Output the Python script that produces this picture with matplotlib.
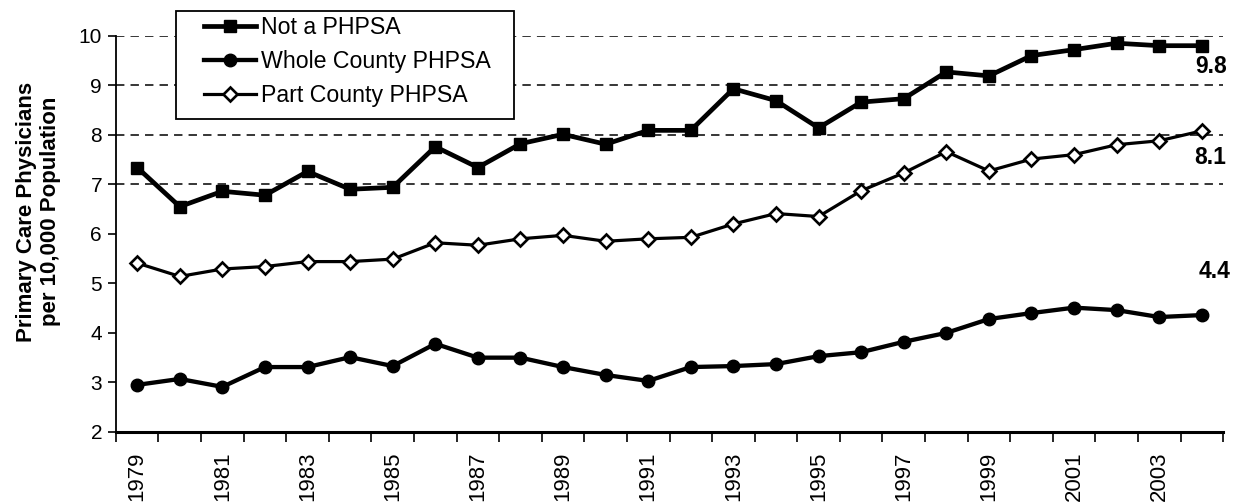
import matplotlib
matplotlib.use("Agg")
import matplotlib.pyplot as plt
import matplotlib.patches as mpatches
from matplotlib.ticker import FixedLocator

YEARS = list(range(1979, 2005))

NOT_PHPSA = [7.34, 6.55, 6.86, 6.78, 7.26, 6.90, 6.94, 7.76, 7.34, 7.82, 8.01, 7.81,
             8.09, 8.09, 8.93, 8.69, 8.14, 8.66, 8.73, 9.27, 9.19, 9.60, 9.72, 9.85,
             9.80, 9.80]
WHOLE_COUNTY = [2.95, 3.07, 2.91, 3.31, 3.31, 3.51, 3.33, 3.78, 3.50, 3.50, 3.31, 3.15,
                3.03, 3.31, 3.33, 3.37, 3.53, 3.61, 3.82, 4.00, 4.28, 4.40, 4.51, 4.46,
                4.32, 4.36]
PART_COUNTY = [5.41, 5.14, 5.29, 5.34, 5.44, 5.44, 5.49, 5.82, 5.77, 5.90, 5.97, 5.85,
               5.90, 5.93, 6.20, 6.41, 6.35, 6.87, 7.23, 7.66, 7.27, 7.51, 7.60, 7.80,
               7.88, 8.08]

SERIES = ["Not a PHPSA", "Whole County PHPSA", "Part County PHPSA"]
END_LABELS = ["9.8", "4.4", "8.1"]

plt.rcParams["font.family"] = ["Liberation Sans", "DejaVu Sans"]

fig = plt.figure(figsize=(12.33, 5.04), dpi=100)
ax = fig.add_axes([0.094, 0.143, 0.898, 0.786])

x = list(range(len(YEARS)))

ax.plot(x, NOT_PHPSA, color="black", lw=3.4, marker="s", ms=8.5,
        mfc="black", mec="black", label=SERIES[0], zorder=4)
ax.plot(x, WHOLE_COUNTY, color="black", lw=3.1, marker="o", ms=9,
        mfc="black", mec="black", label=SERIES[1], zorder=4)
ax.plot(x, PART_COUNTY, color="black", lw=2.3, marker="D", ms=7,
        mfc="white", mec="black", mew=1.9, label=SERIES[2], zorder=4)

# dashed grid only on the upper levels, as in the original
for g in [7, 8, 9, 10]:
    ax.axhline(g, color="black", lw=1.1, ls=(0, (5.5, 4)), zorder=1)

ax.set_xlim(-0.5, len(YEARS) - 0.5)
ax.set_ylim(2, 10)
ax.set_yticks(range(2, 11))
ax.tick_params(axis="y", labelsize=15, length=6, width=1.2, direction="out", pad=4)

ax.xaxis.set_major_locator(FixedLocator(x[::2]))
ax.set_xticklabels([str(y) for y in YEARS[::2]], rotation=90)
ax.xaxis.set_minor_locator(FixedLocator([i - 0.5 for i in range(len(YEARS) + 1)]))
ax.tick_params(axis="x", which="major", length=0, labelsize=16, pad=14)
ax.tick_params(axis="x", which="minor", length=7, width=1.2, direction="out")

for s in ["top", "right"]:
    ax.spines[s].set_visible(False)
ax.spines["left"].set_linewidth(1.3)
ax.spines["bottom"].set_linewidth(2.2)

ax.set_ylabel("Primary Care Physicians\nper 10,000 Population", fontsize=16,
              fontweight="bold", linespacing=1.15)
ax.yaxis.set_label_coords(-0.05, 0.556)

# end-of-line value labels
last = len(YEARS) - 1
offsets = [(9, -21), (13, 44), (8, -27)]
for vals, lab, off in zip([NOT_PHPSA, WHOLE_COUNTY, PART_COUNTY], END_LABELS, offsets):
    ax.annotate(lab, (last, vals[-1]), xytext=off, textcoords="offset pixels",
                ha="center", va="center", fontsize=16.5, fontweight="bold")

# legend: frame drawn separately so the side padding can differ from the top padding
fig.patches.append(mpatches.Rectangle(
    (176 / 1233, 1 - 119 / 504), (514 - 176) / 1233, 108 / 504,
    transform=fig.transFigure, facecolor="white", edgecolor="black",
    linewidth=1.3, zorder=5))
leg = fig.legend(loc="upper left", bbox_to_anchor=(204 / 1233, 0.968), fontsize=16.7,
                 frameon=False, handlelength=2.25, handletextpad=0.2, borderpad=0,
                 labelspacing=0.47, borderaxespad=0)
leg.set_zorder(6)

fig.savefig("out.png", dpi=100, facecolor="white")
